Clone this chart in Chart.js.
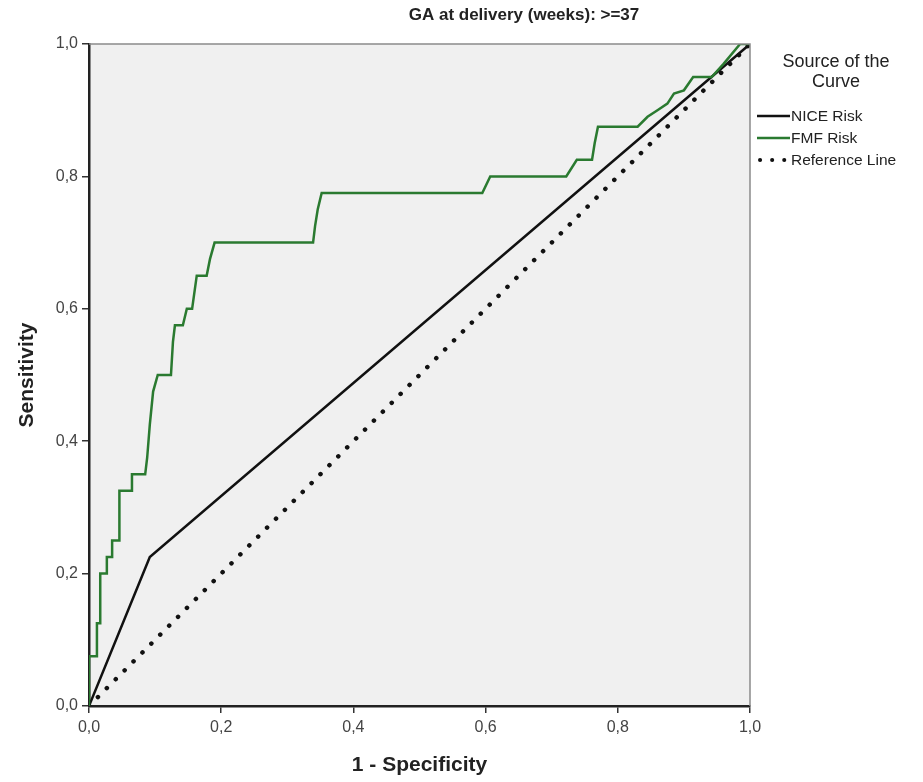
<!DOCTYPE html>
<html>
<head>
<meta charset="utf-8">
<style>
  html, body { margin: 0; padding: 0; background: #fff; }
  #wrap { width: 923px; height: 782px; }
</style>
<script src="https://cdn.jsdelivr.net/npm/chart.js@4/dist/chart.umd.min.js"></script>
</head>
<body>
<div id="wrap"><canvas id="myChart" width="923" height="782"></canvas></div>
<script>
const chartTitle = 'GA at delivery (weeks): >=37';
const legendTitle = ['Source of the', 'Curve'];
const seriesNames = ['NICE Risk', 'FMF Risk', 'Reference Line'];
const tickLabels = ['0,0', '0,2', '0,4', '0,6', '0,8', '1,0'];

// NICE risk: single cut-off
const niceX = [0, 0.092, 1];
const niceY = [0, 0.225, 1];

// FMF risk curve corners (1 - specificity, sensitivity)
const fmfX = [0, 0, 0.012, 0.012, 0.017, 0.017, 0.027, 0.027, 0.035, 0.035, 0.046, 0.046,
  0.065, 0.065, 0.085, 0.088, 0.092, 0.097, 0.104, 0.124, 0.127, 0.13, 0.142, 0.148, 0.156,
  0.163, 0.178, 0.183, 0.19, 0.339, 0.342, 0.346, 0.352, 0.595, 0.607, 0.722, 0.738, 0.761,
  0.765, 0.77, 0.83, 0.845, 0.86, 0.875, 0.885, 0.9, 0.914, 0.942, 0.96, 0.985, 1];
const fmfY = [0, 0.075, 0.075, 0.125, 0.125, 0.2, 0.2, 0.225, 0.225, 0.25, 0.25, 0.325,
  0.325, 0.35, 0.35, 0.375, 0.425, 0.475, 0.5, 0.5, 0.55, 0.575, 0.575, 0.6, 0.6,
  0.65, 0.65, 0.675, 0.7, 0.7, 0.725, 0.75, 0.775, 0.775, 0.8, 0.8, 0.825, 0.825,
  0.85, 0.875, 0.875, 0.89, 0.9, 0.91, 0.925, 0.93, 0.95, 0.95, 0.97, 1, 1];

const refX = [0, 1];
const refY = [0, 1];

const toPoints = (xs, ys) => xs.map((x, i) => ({ x: x, y: ys[i] }));
const FONT = '"Liberation Sans", Arial, sans-serif';

const plotBg = {
  id: 'plotBg',
  beforeDraw(chart) {
    const { ctx, chartArea: a } = chart;
    ctx.save();
    ctx.fillStyle = '#f0f0f0';
    ctx.fillRect(a.left, a.top, a.right - a.left, a.bottom - a.top);
    ctx.restore();
  },
  afterDraw(chart) {
    const { ctx, chartArea: a } = chart;
    ctx.save();
    ctx.strokeStyle = '#8a8a8a';
    ctx.lineWidth = 1.5;
    ctx.beginPath();
    ctx.moveTo(a.left, a.top);
    ctx.lineTo(a.right, a.top);
    ctx.lineTo(a.right, a.bottom);
    ctx.stroke();

    // title
    ctx.fillStyle = '#222';
    ctx.font = 'bold 17px ' + FONT;
    ctx.textAlign = 'center';
    ctx.textBaseline = 'middle';
    ctx.fillText(chartTitle, 524, 15);

    // legend
    ctx.font = '18px ' + FONT;
    ctx.fillText(legendTitle[0], 836, 62);
    ctx.fillText(legendTitle[1], 836, 82);
    ctx.font = '15.5px ' + FONT;
    ctx.textAlign = 'left';
    const rows = [116, 138, 160];
    chart.data.datasets.forEach((ds, i) => {
      const y = rows[i];
      ctx.strokeStyle = ds.borderColor;
      ctx.lineWidth = i === 2 ? 4 : ds.borderWidth;
      ctx.lineCap = ds.borderCapStyle || 'butt';
      ctx.setLineDash(i === 2 ? [0.1, 12] : []);
      ctx.beginPath();
      ctx.moveTo(i === 2 ? 760 : 757, y);
      ctx.lineTo(790, y);
      ctx.stroke();
      ctx.setLineDash([]);
      ctx.fillStyle = '#222';
      ctx.fillText(ds.label, 791, y + 1);
    });
    ctx.restore();
  }
};

const canvasContext = document.getElementById('myChart').getContext('2d');
const config = {
  type: 'line',
  data: {
    datasets: [{
      label: seriesNames[0],
      data: toPoints(niceX, niceY),
      borderColor: '#111',
      borderWidth: 2.5,
      pointRadius: 0,
      order: 2
    }, {
      label: seriesNames[1],
      data: toPoints(fmfX, fmfY),
      borderColor: '#2a7a30',
      borderWidth: 2.5,
      pointRadius: 0,
      order: 1
    }, {
      label: seriesNames[2],
      data: toPoints(refX, refY),
      borderColor: '#111',
      borderWidth: 4.5,
      borderDash: [0.1, 12.5],
      borderCapStyle: 'round',
      pointRadius: 0,
      order: 3
    }]
  },
  options: {
    responsive: false,
    animation: false,
    layout: { padding: { top: 44, right: 173, left: 0, bottom: 0 } },
    plugins: { legend: { display: false }, tooltip: { enabled: false } },
    scales: {
      x: {
        type: 'linear',
        min: 0, max: 1,
        afterFit: s => { s.height = 76; },
        border: { color: '#222', width: 2.5 },
        grid: { display: true, drawOnChartArea: false, drawTicks: true, tickLength: 7, color: '#333', lineWidth: 1.5 },
        ticks: {
          stepSize: 0.2,
          color: '#444',
          padding: 5,
          font: { size: 16, family: FONT },
          callback: function (value, index) { return tickLabels[index]; }
        },
        title: {
          display: true,
          text: '1 - Specificity',
          color: '#222',
          padding: { top: 0, bottom: 4 },
          font: { size: 21, weight: 'bold', family: FONT }
        }
      },
      y: {
        type: 'linear',
        min: 0, max: 1,
        afterFit: s => { s.width = 89; },
        border: { color: '#222', width: 2.5 },
        grid: { display: true, drawOnChartArea: false, drawTicks: true, tickLength: 7, color: '#333', lineWidth: 1.5 },
        ticks: {
          stepSize: 0.2,
          color: '#444',
          padding: 4,
          font: { size: 16, family: FONT },
          callback: function (value, index) { return tickLabels[index]; }
        },
        title: {
          display: true,
          text: 'Sensitivity',
          color: '#222',
          padding: { top: 15, bottom: 0 },
          font: { size: 21, weight: 'bold', family: FONT }
        }
      }
    }
  },
  plugins: [plotBg]
};
const myChart = new Chart(canvasContext, config);
</script>
</body>
</html>
